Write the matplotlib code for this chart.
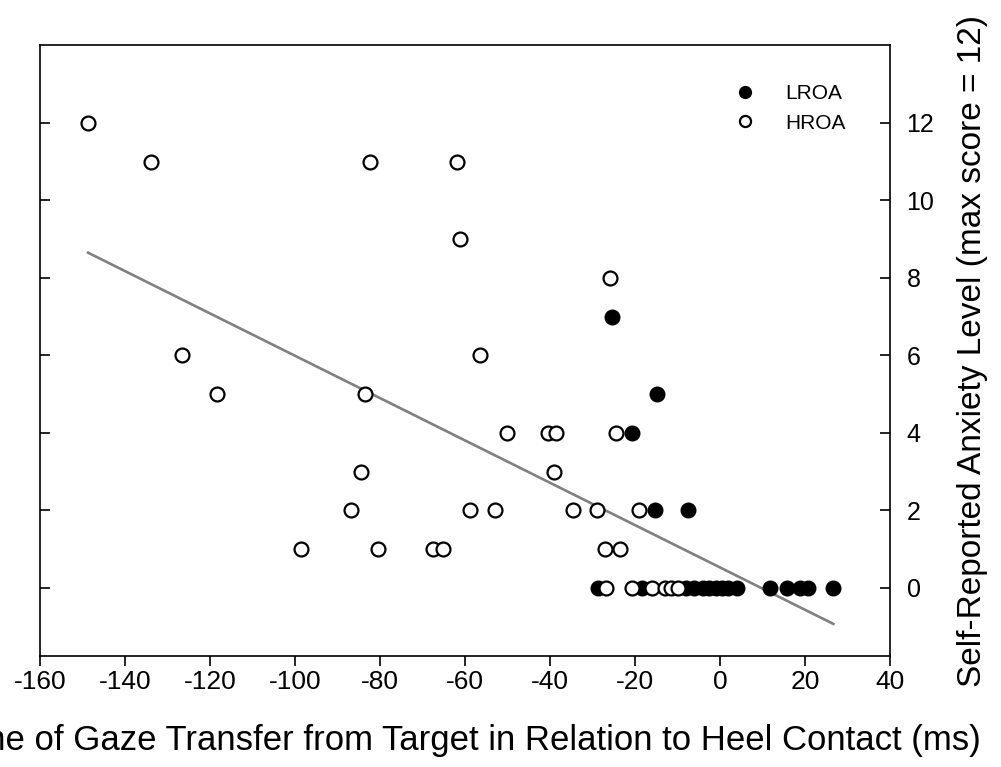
import matplotlib
matplotlib.use("Agg")
import matplotlib.pyplot as plt
import numpy as np

plt.rcParams['font.family'] = ['Liberation Sans', 'DejaVu Sans']
plt.rcParams['axes.unicode_minus'] = False

# LROA group (filled markers): gaze transfer time (ms) vs anxiety score
lroa_x = [-25.5, -20.7, -14.7, -15.2, -7.6, -28.6, -18.4,
          -8.0, -6.0, -4.0, -2.5, -1.0, 0.5, 2.0, 4.0,
          11.8, 15.7, 18.8, 20.7, 26.7]
lroa_y = [7, 4, 5, 2, 2, 0, 0,
          0, 0, 0, 0, 0, 0, 0, 0,
          0, 0, 0, 0, 0]

# HROA group (open markers)
hroa_x = [-148.7, -133.9, -82.4, -61.9, -61.2, -25.9, -126.7, -56.4,
          -118.4, -83.5, -50.0, -40.5, -38.5, -24.5, -84.5, -39.1,
          -86.8, -58.8, -52.9, -34.6, -29.0, -19.0, -98.7, -80.4,
          -67.5, -65.2, -27.1, -23.5, -26.7, -20.8, -16.1, -12.9,
          -11.4, -9.9]
hroa_y = [12, 11, 11, 11, 9, 8, 6, 6,
          5, 5, 4, 4, 4, 4, 3, 3,
          2, 2, 2, 2, 2, 2, 1, 1,
          1, 1, 1, 1, 0, 0, 0, 0,
          0, 0]

# fitted regression line: anxiety = b0 + b1 * time
fit_b0 = 0.53
fit_b1 = -0.0546

x_ticks = [-160, -140, -120, -100, -80, -60, -40, -20, 0, 20, 40]
y_ticks = [0, 2, 4, 6, 8, 10, 12]

fig = plt.figure(figsize=(10.01, 7.67), dpi=100)
ax = fig.add_axes([0.040, 0.145, 0.849, 0.796])

all_x = np.array(lroa_x + hroa_x)
xl = np.array([all_x.min(), all_x.max()])
ax.plot(xl, fit_b0 + fit_b1 * xl, color='#808080', lw=1.9, zorder=2)

ax.plot(lroa_x, lroa_y, 'o', ms=10, mfc='black', mec='black', mew=1.5,
        ls='none', label='LROA', zorder=3)
ax.plot(hroa_x, hroa_y, 'o', ms=10, mfc='white', mec='black', mew=1.6,
        ls='none', label='HROA', zorder=4)

ax.set_xlim(-160, 40)
ax.set_ylim(-1.75, 14)
ax.set_xticks(x_ticks)
ax.set_yticks(y_ticks)

for s in ax.spines.values():
    s.set_linewidth(1.2)

ax.tick_params(axis='x', direction='out', length=7, width=1.2, top=False,
               labelsize=19, pad=3)
ax.tick_params(axis='y', direction='in', length=7, width=1.2, left=True,
               right=True, labelleft=False, labelright=True, labelsize=18,
               pad=12)

ax.set_xlabel('Time of Gaze Transfer from Target in Relation to Heel Contact (ms)',
              fontsize=25, labelpad=22)
ax.yaxis.set_label_position('right')
ax.set_ylabel('Self-Reported Anxiety Level (max score = 12)', fontsize=24,
              labelpad=16)

ax.legend(loc='upper left', bbox_to_anchor=(0.783, 0.967), frameon=False,
          fontsize=15, handletextpad=0.92, labelspacing=0.5, markerscale=0.8)

fig.savefig('out.png', dpi=100)
